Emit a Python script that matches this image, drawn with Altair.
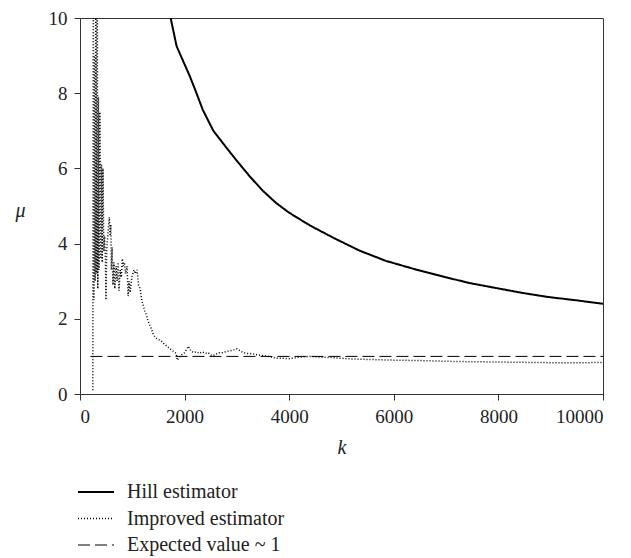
import altair as alt
import pandas as pd

SERIES = ["Hill estimator", "Improved estimator", "Expected value ~ 1"]

hill_k = [1710, 1733, 1847, 1942, 2100, 2200, 2350, 2550, 2800, 3000, 3250, 3500,
          3750, 4000, 4400, 4850, 5350, 5850, 6450, 6950, 7450, 7950,
          8450, 8950, 9500, 10000]
hill_mu = [10.3, 10.0, 9.25, 8.95, 8.45, 8.1, 7.55, 7.0, 6.55, 6.2, 5.78, 5.40,
           5.08, 4.82, 4.48, 4.15, 3.81, 3.54, 3.30, 3.12, 2.95, 2.82,
           2.69, 2.58, 2.49, 2.40]

imp_k = [245, 255, 265, 278, 290, 302, 315, 330, 340, 352, 365,
         380, 395, 410, 425, 440, 455, 470, 485, 497, 510, 530, 560, 575, 590, 600,
         615, 630, 650, 665, 690, 710, 730, 745, 770, 790, 810, 830, 850, 870, 900,
         920, 940, 960, 990, 1030, 1060, 1090, 1120, 1150, 1180, 1210, 1240, 1270,
         1300, 1330, 1360, 1400, 1440, 1500, 1560, 1620, 1680, 1740, 1800, 1840,
         1860, 1900, 1950, 2000, 2070, 2120, 2170, 2230, 2280, 2340, 2400, 2450,
         2520, 2580, 2650, 2720, 2800, 2880, 2950, 3000, 3060, 3120, 3200, 3300,
         3400, 3500, 3600, 3700, 3800, 3900, 4000, 4100, 4200, 4300, 4400, 4600,
         4800, 5000, 5200, 5500, 6000, 6500, 7000, 7400, 8000, 8600, 9200, 9600,
         10000]
imp_mu = [0.1, 12, 2.5, 9.0, 3.0, 11, 3.2, 12, 2.8, 7.9, 3.3,
          7.5, 3.6, 6.1, 3.5, 6.0, 3.8, 4.2, 3.6, 2.5, 3.8, 4.2, 4.7, 4.2, 4.5, 3.3,
          3.9, 2.9, 3.5, 2.8, 3.4, 3.0, 3.5, 2.75, 3.3, 3.1, 3.6, 3.4, 3.5, 3.2, 3.4,
          2.6, 3.0, 2.7, 3.1, 3.3, 3.2, 3.3, 2.9, 2.8, 2.5, 2.35, 2.2, 2.1,
          1.95, 1.85, 1.75, 1.6, 1.5, 1.45, 1.4, 1.32, 1.25, 1.18, 1.12, 1.08,
          0.9, 0.98, 1.05, 1.1, 1.27, 1.15, 1.1, 1.12, 1.08, 1.12, 1.08, 1.1,
          1.02, 1.04, 1.1, 1.1, 1.13, 1.15, 1.18, 1.2, 1.15, 1.1, 1.08, 1.07,
          1.04, 1.02, 1.0, 0.97, 0.95, 0.95, 0.94, 0.96, 0.98, 0.99, 1.0, 0.98,
          0.97, 0.95, 0.93, 0.92, 0.9, 0.89, 0.87, 0.86, 0.85, 0.84, 0.83, 0.83,
          0.84]

exp_k = [200, 10000]
exp_mu = [1.0, 1.0]

rows = []
for k, m in zip(hill_k, hill_mu):
    rows.append({"series": SERIES[0], "k": k, "mu": m})
for k, m in zip(imp_k, imp_mu):
    rows.append({"series": SERIES[1], "k": k, "mu": m})
for k, m in zip(exp_k, exp_mu):
    rows.append({"series": SERIES[2], "k": k, "mu": m})
df = pd.DataFrame(rows)

FONT = "Liberation Serif"

legend = alt.Legend(
    title=None,
    orient="none",
    legendX=6,
    legendY=464,
    symbolType="M-3,0H3",
    symbolSize=144,
    symbolStrokeColor="black",
    labelFont=FONT,
    labelFontSize=20,
    labelColor="#222",
    labelOffset=21,
    rowPadding=6.5,
)

chart = alt.Chart(df).mark_line(clip=True, color="black").encode(
    x=alt.X("k:Q", scale=alt.Scale(domain=[0, 10000], nice=False),
            axis=alt.Axis(values=[0, 2000, 4000, 6000, 8000, 10000], format="d",
                          title="k", titleY=53, titleBaseline="middle")),
    y=alt.Y("mu:Q", scale=alt.Scale(domain=[0, 10], nice=False),
            axis=alt.Axis(values=[0, 2, 4, 6, 8, 10], title="μ", titleAngle=0,
                          titleX=-60, titleY=192, titleAlign="center",
                          titleBaseline="middle")),
    strokeDash=alt.StrokeDash("series:N",
                              scale=alt.Scale(domain=SERIES,
                                              range=[[1, 0], [1, 2], [12, 5]]),
                              legend=legend),
    strokeWidth=alt.StrokeWidth("series:N",
                                scale=alt.Scale(domain=SERIES, range=[2, 1, 2.2]),
                                legend=legend),
    detail="series:N",
    order="k:Q",
).properties(
    width=523,
    height=376,
    autosize=alt.AutoSizeParams(type="none"),
    padding={"left": 72, "top": 10, "right": 20, "bottom": 164},
).configure_view(
    stroke="#333", strokeWidth=1
).configure_axis(
    grid=False,
    domainColor="#333",
    tickColor="#333",
    tickSize=6,
    labelFont=FONT,
    labelFontSize=19,
    labelColor="#222",
    labelPadding=7,
    titleFont=FONT,
    titleFontSize=20,
    titleFontStyle="italic",
    titleFontWeight="normal",
    titleColor="#222",
)

chart.save("out.html", embed_options={"renderer": "svg", "actions": False})
